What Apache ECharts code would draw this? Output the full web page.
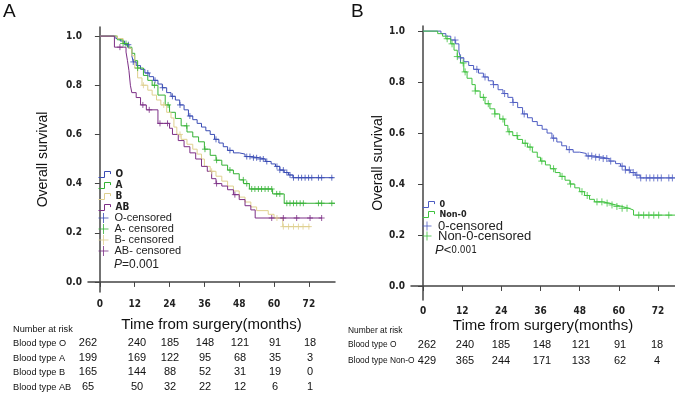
<!DOCTYPE html>
<html>
<head>
<meta charset="utf-8">
<script src="https://cdn.jsdelivr.net/npm/echarts@6/dist/echarts.min.js"></script>
<style>
  html, body { margin: 0; padding: 0; background: #fff; }
  #chart { width: 675px; height: 397px; }
</style>
</head>
<body>
<div id="chart"></div>
<script>
// tick values
const timeTicks = [0, 12, 24, 36, 48, 60, 72];
const survTicks = [0, 0.2, 0.4, 0.6, 0.8, 1.0];

// Kaplan-Meier steps [month, survival]
const kmO = [[0,1],[5.5,0.99],[7,0.98],[8.5,0.965],[10,0.95],[11,0.92],[11.5,0.895],[12.5,0.88],[14,0.865],[15.5,0.85],[17,0.835],[18.5,0.82],[20,0.805],[21.5,0.79],[23,0.77],[24.5,0.755],[26,0.74],[27.5,0.72],[29,0.7],[30.5,0.675],[32,0.66],[33.5,0.645],[35,0.63],[36.5,0.615],[38,0.6],[39.5,0.58],[41,0.565],[42.5,0.55],[44,0.535],[46,0.525],[48,0.52],[50,0.51],[52,0.505],[55,0.5],[57,0.49],[59,0.48],[60.5,0.47],[62,0.455],[63.5,0.445],[65,0.435],[66.5,0.424],[80.5,0.424]];
const kmA = [[0,1],[6,0.985],[8,0.97],[9.5,0.955],[11,0.93],[12,0.9],[13,0.87],[15,0.84],[16.5,0.82],[18,0.8],[20,0.76],[22.5,0.72],[24,0.69],[26,0.665],[28,0.635],[30,0.61],[32,0.59],[34,0.57],[36,0.54],[38,0.515],[40,0.495],[42,0.475],[44,0.455],[46,0.44],[48,0.415],[49.5,0.4],[51.5,0.378],[59.5,0.358],[63.5,0.32],[81,0.32]];
const kmB = [[0,1],[6,0.99],[8,0.97],[10,0.95],[11,0.92],[12,0.87],[13,0.83],[14.5,0.8],[16.5,0.78],[18,0.76],[19.5,0.74],[21,0.72],[23,0.69],[24.5,0.667],[25.5,0.63],[26.5,0.6],[28,0.58],[30,0.56],[32,0.54],[33.5,0.52],[35,0.5],[36,0.47],[38,0.45],[40,0.43],[42,0.41],[44,0.39],[46,0.37],[48,0.345],[50,0.325],[52,0.305],[54,0.29],[58,0.275],[60,0.26],[63,0.225],[72.5,0.225]];
const kmAB = [[0,1],[5,0.955],[9,0.935],[9.5,0.9],[10,0.86],[10.5,0.8],[11,0.77],[12.5,0.75],[14,0.72],[16,0.7],[20,0.645],[24,0.625],[25,0.6],[27,0.575],[29,0.55],[31,0.525],[33,0.5],[35,0.47],[37,0.45],[38.5,0.42],[40,0.4],[42,0.39],[44,0.375],[46,0.355],[48,0.335],[50,0.31],[52,0.293],[53.5,0.26],[76.5,0.26]];
const kmNonO = [[0,1],[4.5,0.99],[6,0.98],[7,0.97],[8.5,0.95],[9.5,0.925],[10.5,0.9],[11.5,0.875],[12.5,0.84],[13.5,0.815],[15,0.79],[16,0.765],[17.5,0.74],[19,0.715],[20.5,0.695],[22,0.675],[23.5,0.655],[25,0.63],[26,0.605],[27.5,0.59],[29,0.575],[30.5,0.56],[32,0.545],[33.5,0.525],[35,0.505],[36,0.49],[37.5,0.475],[39,0.46],[40.5,0.445],[42,0.43],[43.5,0.415],[45,0.4],[46.5,0.385],[48,0.37],[49.5,0.355],[51,0.34],[52.5,0.33],[55,0.325],[57,0.318],[59,0.312],[61,0.305],[63,0.298],[64.5,0.278],[77.5,0.278]];

// censoring times (months)
const cenO = [9.8,11.5,16.5,19,21.6,25,27.6,31,40,44.8,50.6,51.7,52.9,54,55.2,56.3,57.5,61,62,63.2,64.4,65.5,66.7,68.4,69.5,70.7,71.9,73,75.3,76.4,79.9];
const cenA = [8,9,13,18.8,23.5,29.9,36.2,40.2,44.8,49.4,50.6,52.3,53.4,54.6,55.7,56.9,58,59.2,60.9,62,64.4,65.5,66.7,67.8,69,70.1,75.3,76.4,79.9];
const cenB = [15,22,27.6,38.5,61,63.2,65,66.7,68.4,70,72];
const cenAB = [6.9,14.8,17,20.7,23.3,40.2,46.5,59.2,63.2,67.8,72.4,76.4];
const cenNonO = [7.4,8.9,10.5,12.3,12.9,16,18.5,20,22,24.5,26.4,28.8,31.3,32.8,36.4,40,42.6,45.2,48.7,50.3,53.3,54.8,56.4,57.9,59.4,61,62.5,66.1,67.6,69.2,70.7,72.2,75.3];

// number at risk
const riskO = [262, 240, 185, 148, 121, 91, 18];
const riskA = [199, 169, 122, 95, 68, 35, 3];
const riskB = [165, 144, 88, 52, 31, 19, 0];
const riskAB = [65, 50, 32, 22, 12, 6, 1];
const riskNonO = [429, 365, 244, 171, 133, 62, 4];

const colors = { O: "#3a4cb4", A: "#34b134", B: "#dfd08e", AB: "#7c2e86", O2: "#4d5cc2", NonO: "#3fc23f" };

// survival value of a step curve at time t
function survAt(km, t) {
  let s = km[0][1];
  for (const [x, y] of km) if (x <= t) s = y;
  return s;
}

const stepIcon = "path://M0,7L7,7L7,0L14,0L14,3";
const plusIcon = "path://M0,5L10,5M5,0L5,10";

const SANS = "'Liberation Sans', Arial, sans-serif";
const NARROW = "'DejaVu Sans Condensed', 'Liberation Sans', Arial, sans-serif";
const narrowBold = { fontFamily: NARROW, fontWeight: "bold", color: "#222" };
const plain = { fontFamily: SANS, color: "#222" };

function kmSeries(name, km, color, axis) {
  return {
    name, type: "line", step: "end", data: km, showSymbol: false,
    xAxisIndex: axis, yAxisIndex: axis,
    lineStyle: { color, width: 1 }, itemStyle: { color }, z: 3,
  };
}
function cenSeries(name, km, times, color, axis, size) {
  return {
    name, type: "scatter", data: times.map((t) => [t, survAt(km, t)]),
    xAxisIndex: axis, yAxisIndex: axis, symbol: plusIcon, symbolSize: size,
    itemStyle: { color: "none", borderColor: color, borderWidth: 1 }, z: 4,
  };
}
function legendBox(left, top, itemWidth, itemHeight, itemGap, icon, items, textStyle) {
  return {
    orient: "vertical", left, top, itemWidth, itemHeight, itemGap, padding: 0,
    selectedMode: false, textStyle,
    data: items.map(([name, color]) => ({
      name, icon, itemStyle: { color: "none", borderColor: color, borderWidth: 1 },
    })),
  };
}

function xAxisOpt(grid, min, max, gap, margin) {
  return {
    gridIndex: grid, type: "value", min, max,
    name: "Time from surgery(months)", nameLocation: "middle", nameGap: gap, nameMoveOverlap: false,
    nameTextStyle: { fontFamily: SANS, fontSize: 15, color: "#111" },
    axisLine: { lineStyle: { color: "#444", width: 1.5 } },
    axisTick: { length: 5, customValues: timeTicks, lineStyle: { color: "#444" } },
    axisLabel: { customValues: timeTicks, margin, fontSize: 10, ...narrowBold },
    splitLine: { show: false },
  };
}
function yAxisOpt(grid, min, max, gap) {
  return {
    gridIndex: grid, type: "value", min, max,
    name: "Overall survival", nameLocation: "middle", nameGap: gap, nameRotate: 90,
    nameTextStyle: { fontFamily: SANS, fontSize: 14, color: "#111" },
    axisLine: { show: true, lineStyle: { color: "#444", width: 1.5 } },
    axisTick: { show: true, length: 5, customValues: survTicks, lineStyle: { color: "#444" } },
    axisLabel: { customValues: survTicks, margin: 6, fontSize: 10, ...narrowBold, formatter: (v) => v.toFixed(1) },
    splitLine: { show: false },
  };
}

const colA = [88, 137, 170, 205, 240, 275, 310];
const colB = [427, 465, 501, 542, 581, 620, 657];

function riskRow(label, values, x0, cols, y, labelSize) {
  const out = [{ type: "text", x: x0, y, style: { text: label, fontFamily: SANS, fontSize: labelSize, fill: "#111", verticalAlign: "middle" } }];
  values.forEach((v, i) => {
    out.push({ type: "text", x: cols[i], y, style: { text: String(v), fontFamily: SANS, fontSize: 11, fill: "#111", align: "center", verticalAlign: "middle" } });
  });
  return out;
}

const chart = echarts.init(document.getElementById("chart"));
chart.setOption({
  animation: false,
  backgroundColor: "#fff",
  grid: [
    { left: 88, top: 27, width: 247, height: 265 },
    { left: 411, top: 26, width: 264, height: 274 },
  ],
  xAxis: [xAxisOpt(0, -4.1, 81, 25, 7), xAxisOpt(1, -3.68, 77.2, 18, 6)],
  yAxis: [yAxisOpt(0, -0.041, 1.037, 38), yAxisOpt(1, -0.055, 1.02, 25)],
  legend: [
    legendBox(96, 169, 12, 7, 0, stepIcon,
      [["O", colors.O], ["A", colors.A], ["B", colors.B], ["AB", colors.AB]],
      { ...narrowBold, fontSize: 10 }),
    legendBox(96, 210.5, 12, 10, -4, plusIcon,
      [["O-censored", colors.O], ["A- censored", colors.A], ["B- censored", colors.B], ["AB- censored", colors.AB]],
      { ...plain, fontSize: 11 }),
    legendBox(420, 199, 12, 6, -1, stepIcon,
      [["0", colors.O2], ["Non-0", colors.NonO]],
      { ...narrowBold, fontSize: 9 }),
    legendBox(420, 219, 12, 9, -4, plusIcon,
      [["0-censored", colors.O2], ["Non-0-censored", colors.NonO]],
      { ...plain, fontSize: 13 }),
  ],
  series: [
    kmSeries("O", kmO, colors.O, 0),
    kmSeries("A", kmA, colors.A, 0),
    kmSeries("B", kmB, colors.B, 0),
    kmSeries("AB", kmAB, colors.AB, 0),
    cenSeries("O-censored", kmO, cenO, colors.O, 0, 6),
    cenSeries("A- censored", kmA, cenA, colors.A, 0, 6),
    cenSeries("B- censored", kmB, cenB, colors.B, 0, 6),
    cenSeries("AB- censored", kmAB, cenAB, colors.AB, 0, 6),
    kmSeries("0", kmO, colors.O2, 1),
    kmSeries("Non-0", kmNonO, colors.NonO, 1),
    cenSeries("0-censored", kmO, cenO, colors.O2, 1, 7),
    cenSeries("Non-0-censored", kmNonO, cenNonO, colors.NonO, 1, 7),
  ],
  graphic: [
    { type: "text", left: 3, top: 2, style: { text: "A", fontFamily: SANS, fontSize: 19, fill: "#111" } },
    { type: "text", left: 351, top: 2, style: { text: "B", fontFamily: SANS, fontSize: 19, fill: "#111" } },
    {
      type: "text", left: 114, top: 259,
      style: { text: "{i|P}{n|=0.001}", fill: "#222",
        rich: { i: { fontStyle: "italic", fontFamily: SANS, fontSize: 12 }, n: { fontFamily: SANS, fontSize: 12 } } },
    },
    {
      type: "text", left: 435, top: 244,
      style: { text: "{i|P}{n|<}{s|0.001}", fill: "#222",
        rich: {
          i: { fontStyle: "italic", fontFamily: SANS, fontSize: 13 },
          n: { fontFamily: SANS, fontSize: 13 },
          s: { fontFamily: NARROW, fontSize: 10 },
        } },
    },
    { type: "text", x: 13, y: 329, style: { text: "Number at risk", fontFamily: SANS, fontSize: 9.2, fill: "#111", verticalAlign: "middle" } },
    ...riskRow("Blood type O", riskO, 13, colA, 343, 9.2),
    ...riskRow("Blood type A", riskA, 13, colA, 358, 9.2),
    ...riskRow("Blood type B", riskB, 13, colA, 372, 9.2),
    ...riskRow("Blood type AB", riskAB, 13, colA, 387, 9.2),
    { type: "text", x: 348, y: 331, style: { text: "Number at risk", fontFamily: SANS, fontSize: 8.4, fill: "#111", verticalAlign: "middle" } },
    ...riskRow("Blood type O", riskO, 348, colB, 345, 8.4),
    ...riskRow("Blood type Non-O", riskNonO, 348, colB, 361, 8.4),
  ],
});
</script>
</body>
</html>
